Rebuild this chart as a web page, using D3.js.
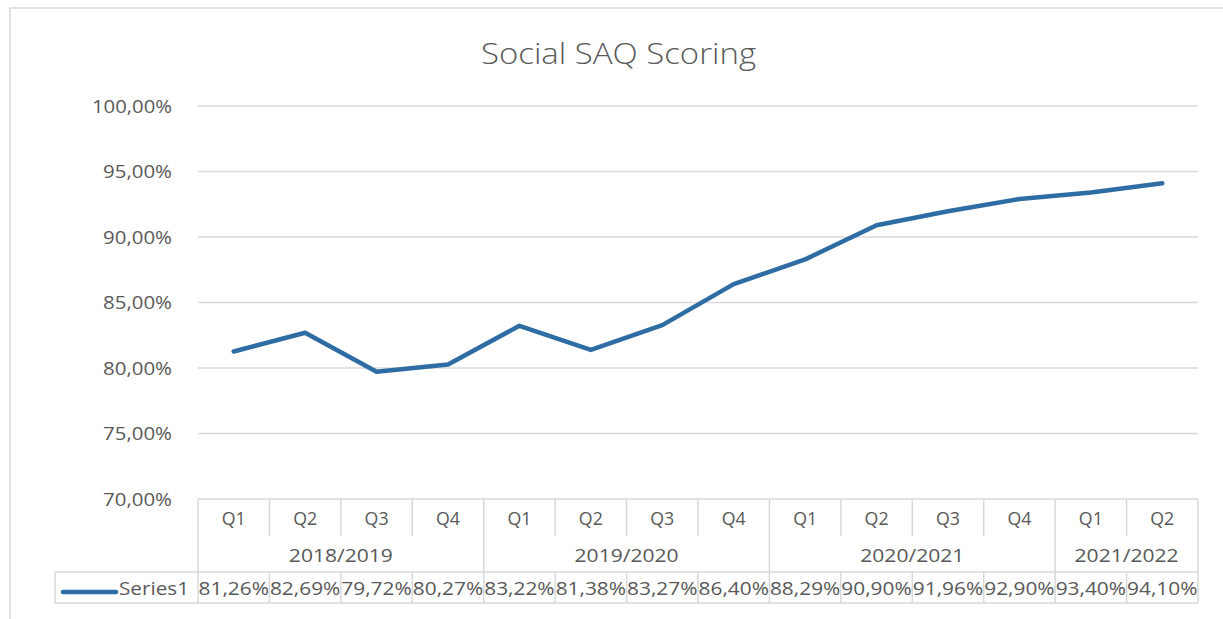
<!DOCTYPE html>
<html><head><meta charset="utf-8">
<script src="https://cdn.jsdelivr.net/npm/d3@7"></script>
<style>body{margin:0;background:#fff}svg{display:block}</style>
</head><body>
<script>
const quarters = ["Q1","Q2","Q3","Q4","Q1","Q2","Q3","Q4","Q1","Q2","Q3","Q4","Q1","Q2"];
const years = ["2018/2019","2019/2020","2020/2021","2021/2022"];
const yearSpans = [4,4,4,2];
const values = [81.26,82.69,79.72,80.27,83.22,81.38,83.27,86.40,88.29,90.90,91.96,92.90,93.40,94.10];
const yTicks = [70,75,80,85,90,95,100];
const seriesName = "Series1";
const title = "Social SAQ Scoring";

const W=1223,H=619;
const font = "'Open Sans', sans-serif";
const txt = "#595959", grid = "#D9D9D9", lineCol = "#2E6CA4";
const svg = d3.select("body").append("svg").attr("width",W).attr("height",H);

svg.append("rect").attr("x",10).attr("y",8).attr("width",1240).attr("height",640)
  .attr("fill","none").attr("stroke",grid).attr("stroke-width",1.5);

const x0=198,x1=1198,yTop=106,yBot=499;
const x = d3.scaleBand().domain(d3.range(values.length)).range([x0,x1]).paddingInner(0).paddingOuter(0);
const y = d3.scaleLinear().domain([70,100]).range([yBot,yTop]);
const fmt = v => d3.format(".2f")(v).replace(".",",")+"%";

svg.append("text").attr("x",618.5).attr("y",53).attr("dy","0.35em").attr("text-anchor","middle")
  .attr("font-family",font).attr("font-weight",300).attr("font-size",30).attr("fill",txt)
  .attr("textLength",275).attr("lengthAdjust","spacingAndGlyphs").text(title);

// gridlines
svg.append("g").selectAll("line").data(yTicks.filter(t=>t>70)).join("line")
  .attr("x1",x0).attr("x2",x1).attr("y1",d=>y(d)).attr("y2",d=>y(d))
  .attr("stroke",grid).attr("stroke-width",1.3);

// y labels
svg.append("g").selectAll("text").data(yTicks).join("text")
  .attr("x",172).attr("y",d=>y(d)).attr("dy","0.35em").attr("text-anchor","end")
  .attr("font-family",font).attr("font-size",19).attr("fill",txt)
  .attr("textLength",d=>d>=100?80:69).attr("lengthAdjust","spacingAndGlyphs").text(d=>fmt(d));

// line
const line = d3.line().x((d,i)=>x(i)+x.bandwidth()/2).y(d=>y(d));
svg.append("path").datum(values).attr("d",line).attr("fill","none")
  .attr("stroke",lineCol).attr("stroke-width",4.5).attr("stroke-linejoin","round").attr("stroke-linecap","round");

// table
const r1=499,r2=536,r3=572,r4=603,legX=55;
const tg = svg.append("g").attr("stroke",grid).attr("stroke-width",1.5);
tg.append("line").attr("x1",x0).attr("x2",x1).attr("y1",r1).attr("y2",r1);
tg.append("line").attr("x1",legX).attr("x2",x1).attr("y1",r3).attr("y2",r3);
tg.append("line").attr("x1",legX).attr("x2",x1).attr("y1",r4).attr("y2",r4);
tg.append("line").attr("x1",legX).attr("x2",legX).attr("y1",r3).attr("y2",r4);
let cum=[0]; yearSpans.forEach(s=>cum.push(cum[cum.length-1]+s));
const bx = i => i>=values.length ? x1 : x(i);
d3.range(values.length+1).forEach(i=>{
  const isGroup = cum.includes(i);
  tg.append("line").attr("x1",bx(i)).attr("x2",bx(i)).attr("y1",r1).attr("y2",isGroup?r4:r2);
  if(!isGroup) tg.append("line").attr("x1",bx(i)).attr("x2",bx(i)).attr("y1",r3).attr("y2",r4);
});

svg.append("g").selectAll("text").data(quarters).join("text")
  .attr("x",(d,i)=>x(i)+x.bandwidth()/2).attr("y",(r1+r2)/2+1).attr("dy","0.35em").attr("text-anchor","middle")
  .attr("font-family",font).attr("font-size",18.5).attr("fill",txt)
  .attr("textLength",24).attr("lengthAdjust","spacingAndGlyphs").text(d=>d);
svg.append("g").selectAll("text").data(years).join("text")
  .attr("x",(d,i)=>(bx(cum[i])+bx(cum[i+1]))/2).attr("y",(r2+r3)/2+1).attr("dy","0.35em").attr("text-anchor","middle")
  .attr("font-family",font).attr("font-size",19).attr("fill",txt)
  .attr("textLength",104).attr("lengthAdjust","spacingAndGlyphs").text(d=>d);
svg.append("g").selectAll("text").data(values).join("text")
  .attr("x",(d,i)=>x(i)+x.bandwidth()/2).attr("y",(r3+r4)/2+1).attr("dy","0.35em").attr("text-anchor","middle")
  .attr("font-family",font).attr("font-size",19).attr("fill",txt)
  .attr("textLength",x.bandwidth()-1).attr("lengthAdjust","spacingAndGlyphs").text(d=>fmt(d));

svg.append("line").attr("x1",63).attr("x2",116).attr("y1",592).attr("y2",592)
  .attr("stroke",lineCol).attr("stroke-width",4.5).attr("stroke-linecap","round");
svg.append("text").attr("x",119).attr("y",(r3+r4)/2+1).attr("dy","0.35em")
  .attr("font-family",font).attr("font-size",19).attr("fill",txt)
  .attr("textLength",70).attr("lengthAdjust","spacingAndGlyphs").text(seriesName);
</script>
</body></html>
